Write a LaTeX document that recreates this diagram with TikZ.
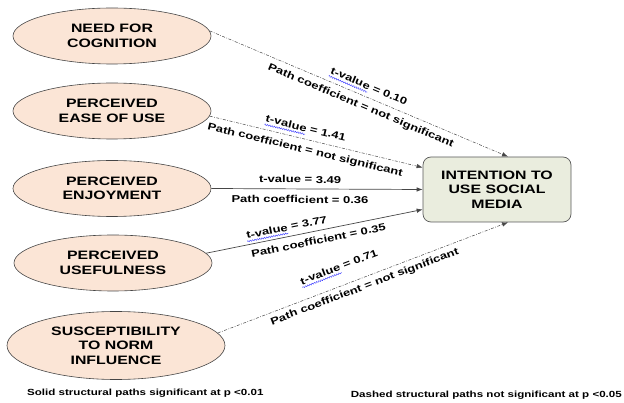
\documentclass[tikz,border=0pt]{standalone}
\usepackage{fontspec}
\setmainfont{Liberation Sans}[FakeStretch=1.3]
\usetikzlibrary{shapes.geometric,arrows.meta,calc,decorations.pathmorphing}
\definecolor{peach}{RGB}{251,229,214}
\definecolor{boxgreen}{RGB}{234,237,222}
\definecolor{edge}{RGB}{70,70,70}
\tikzset{
  construct/.style={ellipse, draw=edge, line width=0.6pt, fill=peach, inner sep=0pt,
    minimum width=198pt, minimum height=56pt, align=center,
    font=\fontsize{12.2}{14.5}\selectfont\bfseries},
  target/.style={rectangle, rounded corners=8pt, draw=gray!70!black, line width=0.7pt,
    fill=boxgreen, minimum width=148pt, minimum height=65pt, align=center,
    font=\fontsize{12.2}{14.7}\selectfont\bfseries},
  sig/.style={draw=edge, line width=0.7pt, -{Latex[length=6pt,width=4.5pt]}},
  nsig/.style={draw=edge, line width=0.5pt, dash pattern=on 3pt off 1.5pt on 0.8pt off 1.5pt,
    -{Latex[length=6pt,width=4.5pt]}},
  lbl/.style={font=\fontsize{10}{12}\selectfont\bfseries, inner sep=2.5pt, sloped},
  wave/.style={draw=blue!75!white, line width=0.45pt, decorate,
    decoration={snake, amplitude=0.7pt, segment length=2.4pt}},
  foot/.style={font=\fontsize{8.9}{10}\selectfont\bfseries, inner sep=0pt}
}
\newcommand\wavebelow[1]{%
  \path ($(#1.base west)!2.5pt!(#1.base east)$) coordinate (#1a)
        ($(#1.base west)!44.4pt!(#1.base east)$) coordinate (#1b);
  \draw[wave] ($(#1a)!2.6pt!-90:(#1b)$) -- ($(#1b)!2.6pt!90:(#1a)$);}
\begin{document}
\begin{tikzpicture}[x=1pt,y=-1pt]
\useasboundingbox (0,0) rectangle (624,403);
\node[construct] (n1) at (112,36) {NEED FOR\\COGNITION};
\node[construct] (n2) at (112,111) {PERCEIVED\\EASE OF USE};
\node[construct] (n3) at (112,188.5) {PERCEIVED\\ENJOYMENT};
\node[construct] (n4) at (113,263) {PERCEIVED\\USEFULNESS};
\node[construct, minimum width=218pt, minimum height=68pt] (n5) at (116,345.5) {SUSCEPTIBILITY\\TO NORM\\INFLUENCE};
\node[target] (tg) at (497,189.5) {INTENTION TO\\USE SOCIAL\\MEDIA};

\draw[nsig] (n1.3) -- ([xshift=11pt]tg.north)
  node[lbl, above=4.5pt, pos=0.52] (t1) {t-value = 0.10}
  node[lbl, below=3pt, pos=0.52] (p1) {Path coefficient = not significant};
\draw[nsig] (n2.-3) -- ([yshift=22pt]tg.west)
  node[lbl, above=4.5pt, pos=0.44] (t2) {t-value = 1.41}
  node[lbl, below=3.5pt, pos=0.46] (p2) {Path coefficient = not significant};
\draw[sig] (n3.east) -- (tg.west)
  node[lbl, above=3pt, pos=0.42] (t3) {t-value = 3.49}
  node[lbl, below=4pt, pos=0.42] (p3) {Path coefficient = 0.36};
\draw[sig] (n4.6) -- ([yshift=-20pt]tg.west)
  node[lbl, above=3pt, pos=0.38] (t4) {t-value = 3.77}
  node[lbl, below=3pt, pos=0.51] (p4) {Path coefficient = 0.35};
\draw[nsig] (n5.7) -- ([xshift=11pt]tg.south)
  node[lbl, above=12pt, pos=0.44] (t5) {t-value = 0.71}
  node[lbl, below=2pt, pos=0.495] (p5) {Path coefficient = not significant};

\wavebelow{t1}
\wavebelow{t2}
\wavebelow{t4}
\wavebelow{t5}

\node[foot, anchor=west] (f1) at (27,393) {Solid structural paths significant at p <0.01};
\node[foot, anchor=east] (f2) at (622,395) {Dashed structural paths not significant at p <0.05};
\end{tikzpicture}
\end{document}
